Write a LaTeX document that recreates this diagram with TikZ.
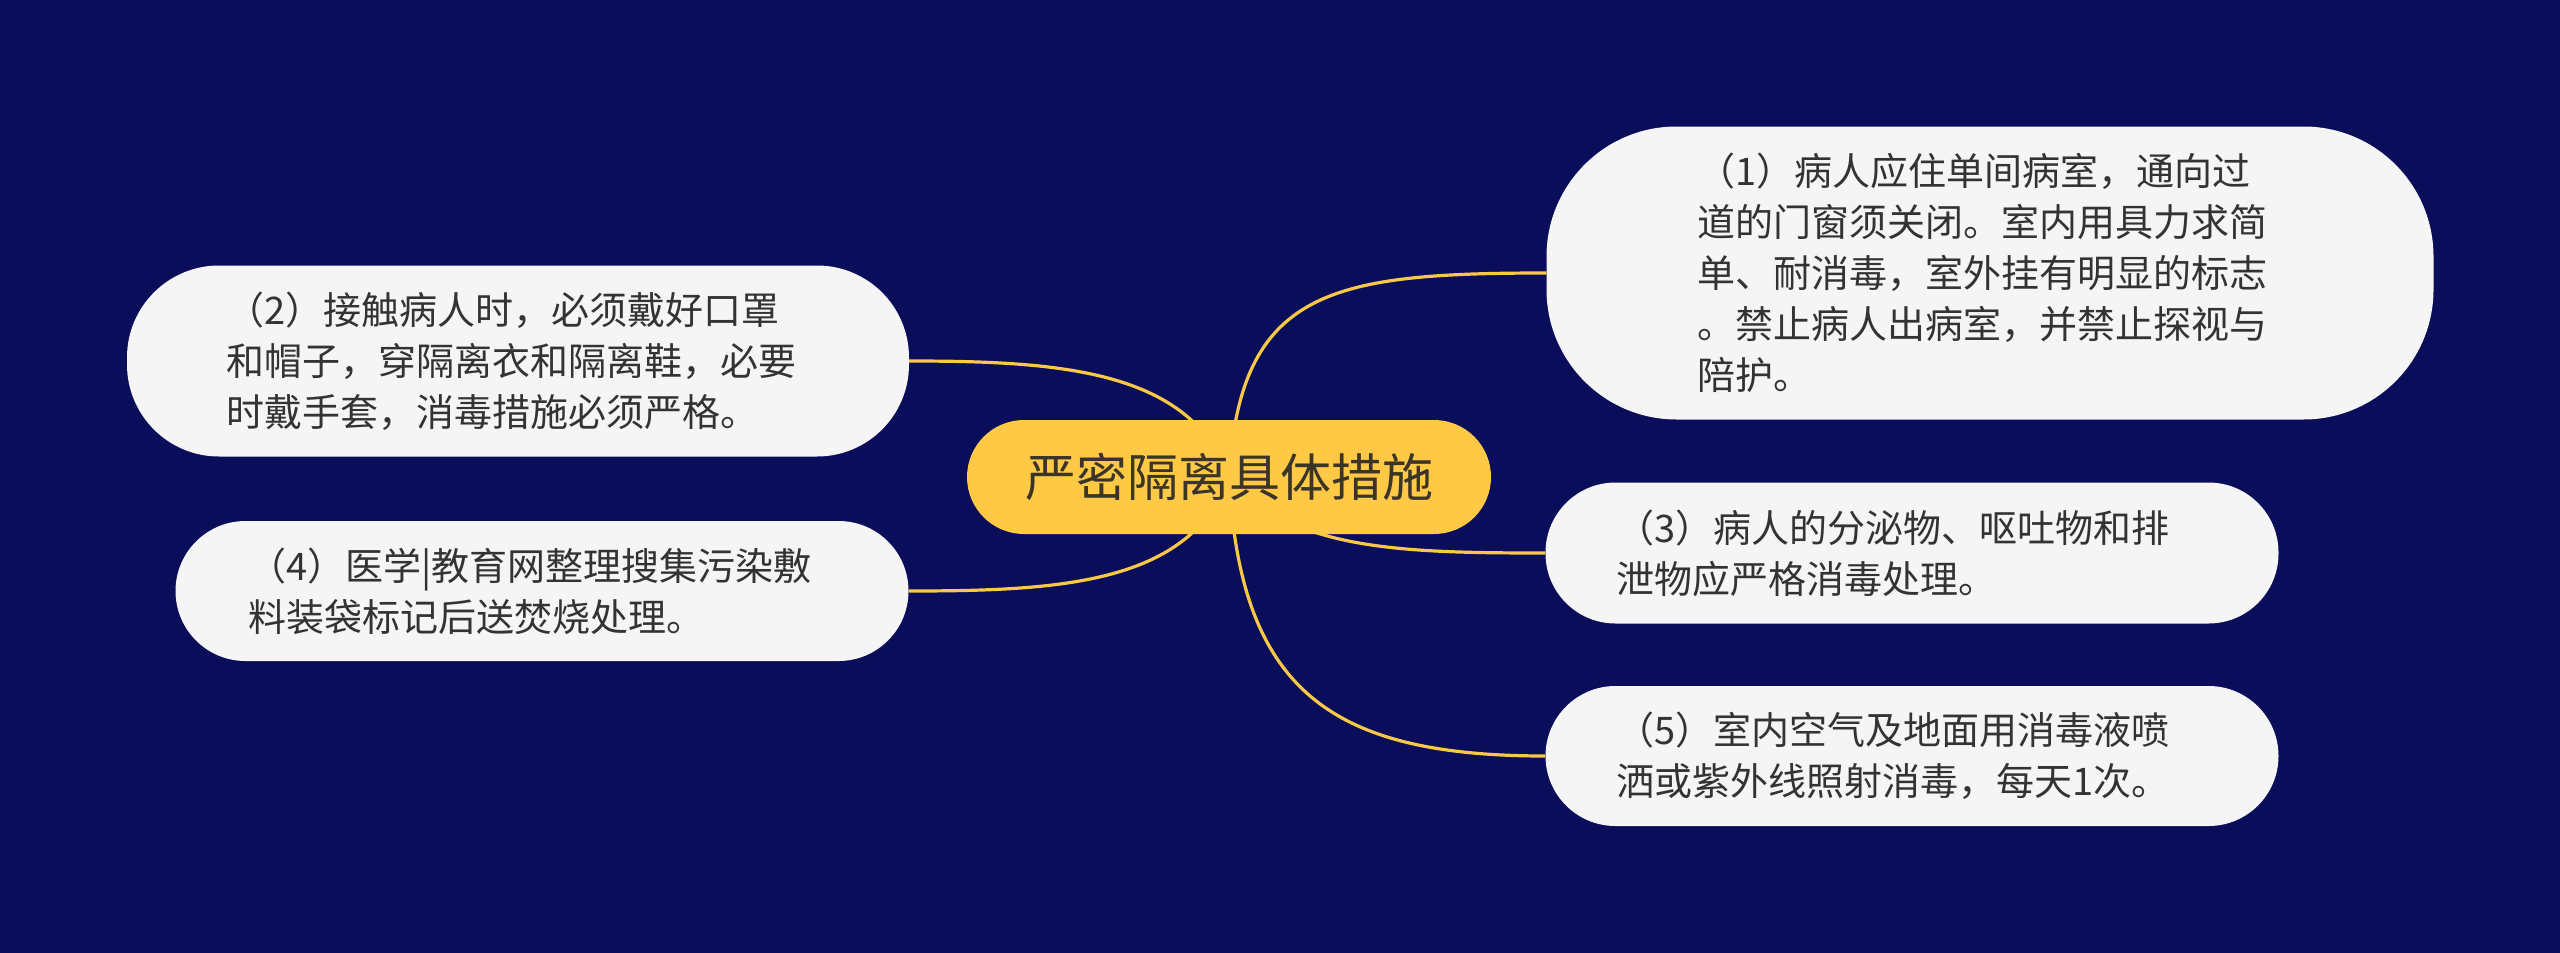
\documentclass[tikz,border=0pt]{standalone}
\usepackage{fontspec}
\setmainfont{Noto Sans CJK SC}
\definecolor{bgnavy}{HTML}{0A0E5A}
\definecolor{mainyellow}{HTML}{FFC845}
\definecolor{linkyellow}{HTML}{F8C846}
\definecolor{leaffill}{HTML}{F5F5F5}
\definecolor{leaftext}{HTML}{333333}
\definecolor{roottext}{HTML}{3A3528}
\pgfdeclarelayer{bg}
\pgfsetlayers{bg,main}
\begin{document}
\begin{tikzpicture}[x=1pt,y=-1pt,
  leafbox/.style={fill=leaffill,inner sep=0pt},
  leaftxt/.style={text=leaftext,inner sep=0pt,align=left,
    font=\fontsize{38}{51}\selectfont},
  rootbox/.style={fill=mainyellow,text=roottext,inner sep=0pt,
    minimum width=524pt,minimum height=114pt,rounded corners=57pt,
    font=\fontsize{51}{58}\selectfont},
  link/.style={draw=linkyellow,line width=3.2pt}]
\begin{pgfonlayer}{bg}
\fill[bgnavy] (0,0) rectangle (2560,953);
\end{pgfonlayer}
\useasboundingbox (0,0) rectangle (2560,953);

\node[rootbox] (c) at (1229,477) {严密隔离具体措施};

\node[leafbox,minimum width=887pt,minimum height=293pt,rounded corners=130pt] (n1) at (1990,273) {};
\node[leaftxt] (t1) at (1982,273)
  {（1）病人应住单间病室，通向过\\道的门窗须关闭。室内用具力求简\\单、耐消毒，室外挂有明显的标志\\。禁止病人出病室，并禁止探视与\\陪护。};
\node[leafbox,minimum width=782pt,minimum height=191pt,rounded corners=92pt] (n2) at (518,361) {};
\node[leaftxt] (t2) at (511,361)
  {（2）接触病人时，必须戴好口罩\\和帽子，穿隔离衣和隔离鞋，必要\\时戴手套，消毒措施必须严格。};
\node[leafbox,minimum width=733pt,minimum height=140pt,rounded corners=70pt] (n4) at (542,591) {};
\node[leaftxt] (t4) at (530,591)
  {（4）医学|教育网整理搜集污染敷\\料装袋标记后送焚烧处理。};
\node[leafbox,minimum width=733pt,minimum height=141pt,rounded corners=70pt] (n3) at (1912,553) {};
\node[leaftxt] (t3) at (1893,553)
  {（3）病人的分泌物、呕吐物和排\\泄物应严格消毒处理。};
\node[leafbox,minimum width=733pt,minimum height=140pt,rounded corners=70pt] (n5) at (1912,756) {};
\node[leaftxt] (t5) at (1893,756)
  {（5）室内空气及地面用消毒液喷\\洒或紫外线照射消毒，每天1次。};

\begin{pgfonlayer}{bg}
\draw[link] (c.center) .. controls (1240,290) and (1330,273) .. (n1.west);
\draw[link] (c.center) .. controls (1190,370) and (1060,361) .. (n2.east);
\draw[link] (c.center) .. controls (1190,584) and (1060,591) .. (n4.east);
\draw[link] (c.center) .. controls (1290,550) and (1400,553) .. (n3.west);
\draw[link] (c.center) .. controls (1240,690) and (1330,756) .. (n5.west);
\end{pgfonlayer}
\end{tikzpicture}
\end{document}
